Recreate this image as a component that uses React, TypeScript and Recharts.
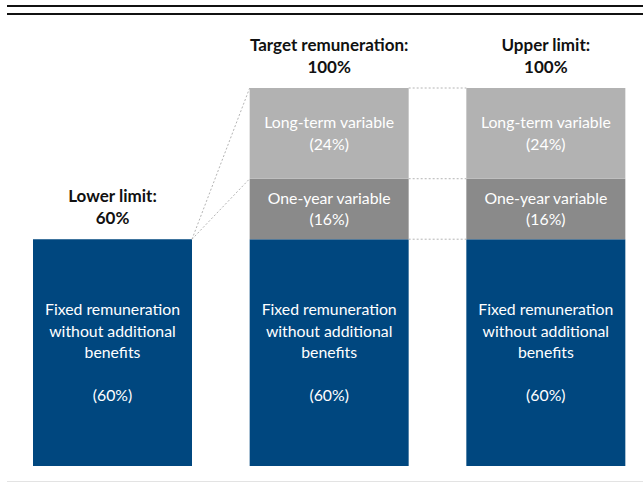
import React from 'react';
import { BarChart, Bar, XAxis, YAxis, LabelList } from 'recharts';

// values in % of target remuneration
const categories = ['Lower limit', 'Target remuneration', 'Upper limit'];
const fixedPct = [60, 60, 60];
const oneYearPct = [0, 16, 16];
const longTermPct = [0, 24, 24];

const fixedText = ['Fixed remuneration', 'without additional', 'benefits', ''];
const oneYearText = ['One-year variable'];
const longTermText = ['Long-term variable'];

const data = categories.map((name, i) => ({
  name,
  fixed: fixedPct[i],
  oneYear: oneYearPct[i],
  longTerm: longTermPct[i],
}));

const CHART_W = 660;
const CHART_H = 483;
const MARGIN = { top: 88, right: 6, bottom: 17, left: 4 };
const BAR_SIZE = 159;
// gap between two neighbouring bars
const GAP = (CHART_W - MARGIN.left - MARGIN.right) / categories.length - BAR_SIZE;

const FONT = 'Lato, "DejaVu Sans", sans-serif';
const LINE_H = 21.5;

const segmentLabel = (lines: string[]) => (props: any) => {
  const { x, y, width, height, value } = props;
  if (!value) return null;
  const all = [...lines, `(${value}%)`];
  const cx = x + width / 2;
  const first = y + height / 2 - ((all.length - 1) * LINE_H) / 2 + 5.5;
  return (
    <text textAnchor="middle" fill="#fff" fontFamily={FONT} fontSize={15.8}>
      {all.map((l, i) => (
        <tspan key={i} x={cx} y={first + i * LINE_H}>
          {l}
        </tspan>
      ))}
    </text>
  );
};

const topLabel = (props: any) => {
  const { x, y, width, index } = props;
  const d = data[index];
  const total = d.fixed + d.oneYear + d.longTerm;
  const cx = x + width / 2;
  return (
    <text textAnchor="middle" fill="#111" fontFamily={FONT} fontSize={17} fontWeight={700}>
      <tspan x={cx} y={y - 37}>{d.name}:</tspan>
      <tspan x={cx} y={y - 15}>{total}%</tspan>
    </text>
  );
};

// top segment + dotted connectors back to the previous bar
const LongTermShape = (props: any) => {
  const { x, y, width, height, fill, payload } = props;
  const i = categories.indexOf(payload.name);
  const lines: React.ReactNode[] = [];
  if (i > 0 && payload.longTerm > 0) {
    const ppu = height / payload.longTerm;
    const topLT = y;
    const topOY = y + height;
    const topFX = topOY + payload.oneYear * ppu;
    const base = topFX + payload.fixed * ppu;
    const prev = data[i - 1];
    const pFX = base - prev.fixed * ppu;
    const pOY = pFX - prev.oneYear * ppu;
    const pLT = pOY - prev.longTerm * ppu;
    const px = x - GAP;
    const seg = [
      [pLT, topLT],
      [pOY, topOY],
    ];
    if (prev.oneYear > 0) seg.push([pFX, topFX]);
    seg.forEach(([a, b], k) =>
      lines.push(
        <line key={k} x1={px} y1={a} x2={x} y2={b} stroke="#b4b4b4" strokeWidth={1} strokeDasharray="2 2" />
      )
    );
  }
  return (
    <g>
      {height > 0 && <rect x={x} y={y} width={width} height={height} fill={fill} />}
      {lines}
    </g>
  );
};

export default function App() {
  return (
    <div style={{ position: 'absolute', left: 0, top: 0, width: 643, height: 483, overflow: 'hidden', background: '#fff' }}>
      <div style={{ position: 'absolute', left: 7, right: 0, top: 5, height: 1.5, background: '#111' }} />
      <div style={{ position: 'absolute', left: 7, right: 0, top: 13, height: 1.5, background: '#111' }} />
      <div style={{ position: 'absolute', left: 7, right: 0, top: 481, height: 1, background: '#e3e3e3' }} />
      <BarChart width={CHART_W} height={CHART_H} data={data} margin={MARGIN} barSize={BAR_SIZE}>
        <XAxis dataKey="name" hide />
        <YAxis hide domain={[0, 100]} />
        <Bar dataKey="fixed" stackId="a" fill="#00477f" isAnimationActive={false}>
          <LabelList dataKey="fixed" content={segmentLabel(fixedText)} />
        </Bar>
        <Bar dataKey="oneYear" stackId="a" fill="#8a8a8a" isAnimationActive={false}>
          <LabelList dataKey="oneYear" content={segmentLabel(oneYearText)} />
        </Bar>
        <Bar dataKey="longTerm" stackId="a" fill="#b2b2b2" shape={LongTermShape} isAnimationActive={false}>
          <LabelList dataKey="longTerm" content={segmentLabel(longTermText)} />
          <LabelList dataKey="longTerm" content={topLabel} />
        </Bar>
      </BarChart>
    </div>
  );
}
